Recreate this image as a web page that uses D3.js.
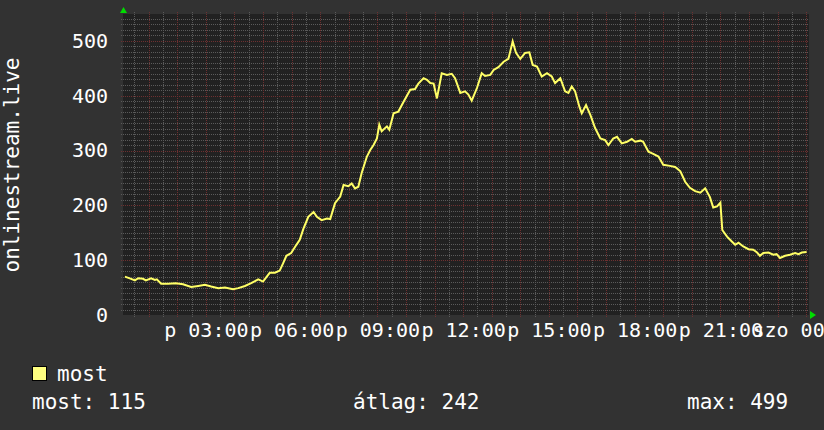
<!DOCTYPE html>
<html>
<head>
<meta charset="utf-8">
<script src="https://cdn.jsdelivr.net/npm/d3@7"></script>
<style>
  body { margin: 0; background: #313131; }
  text { font-family: "DejaVu Sans Mono", monospace; fill: #ffffff; }
</style>
</head>
<body>
<div id="chart"></div>
<script>
var width = 824
var height = 430

// minutes after midnight (friday) and viewer count
var minutes = [10, 23, 31, 38, 48, 54, 65, 73, 77, 86, 101, 117, 132, 149, 164, 178, 191, 206, 220, 237,
  248, 262, 275, 290, 300, 307, 314, 325, 335, 342, 349, 359, 370, 377, 385, 395, 406, 413, 423, 434,
  441, 451, 462, 469, 479, 486, 493, 500, 507, 518, 525, 532, 539, 544, 549, 560, 565, 574, 584, 595,
  609, 619, 626, 637, 644, 651, 658, 665, 675, 686, 696, 703, 714, 724, 731, 738, 749, 759, 766, 777,
  784, 794, 805, 815, 824, 831, 840, 850, 859, 866, 875, 885, 896, 906, 913, 924, 934, 941, 948, 955,
  964, 969, 978, 987, 997, 1008, 1018, 1025, 1035, 1043, 1053, 1064, 1074, 1081, 1092, 1098, 1109, 1119, 1130, 1140,
  1154, 1165, 1176, 1186, 1196, 1207, 1218, 1228, 1238, 1245, 1253, 1260, 1264, 1274, 1284, 1291, 1298, 1308, 1319, 1329,
  1337, 1343, 1350, 1361, 1371, 1378, 1385, 1396, 1406, 1417, 1424, 1431, 1441]
var viewers = [70, 66, 63, 67, 66, 63, 67, 64, 65, 57, 57, 58, 56, 51, 53, 55, 52, 49, 50, 47,
  49, 53, 58, 65, 61, 69, 77, 77, 81, 94, 108, 113, 128, 137, 158, 179, 188, 179, 173, 176,
  175, 204, 216, 237, 235, 240, 231, 234, 259, 289, 301, 310, 322, 347, 335, 344, 338, 368, 371, 389,
  411, 412, 422, 432, 429, 423, 422, 395, 441, 438, 440, 432, 405, 408, 402, 391, 414, 441, 436, 438,
  447, 452, 462, 467, 499, 478, 467, 478, 479, 456, 453, 435, 441, 435, 423, 432, 408, 405, 417, 408,
  380, 368, 383, 365, 341, 322, 319, 310, 322, 325, 313, 316, 321, 316, 318, 316, 298, 294, 289, 274,
  272, 270, 262, 243, 232, 226, 223, 231, 215, 196, 198, 205, 155, 143, 134, 128, 132, 125, 120, 119,
  114, 108, 113, 114, 110, 111, 104, 108, 110, 113, 111, 114, 115]

var yTicks = [0, 100, 200, 300, 400, 500]
var dayNames = ["v", "h", "k", "sze", "cs", "p", "szo"]
var seriesName = "most"
var yTitle = "onlinestream.live"
var statLabels = ["most: 115", "átlag: 242", "max: 499"]

var day0 = new Date(2024, 0, 5) // a friday
var data = minutes.map(function(m, i) {
  return { t: d3.timeMinute.offset(day0, m), v: viewers[i] }
})

var svg = d3.select("#chart")
  .append("svg")
    .attr("width", width)
    .attr("height", height)
    .style("display", "block")

svg.append("rect").attr("width", width).attr("height", height).attr("fill", "#323232")

var pLeft = 123, pRight = 809, pTop = 14, pBottom = 315

var x = d3.scaleTime()
  .domain([d3.timeMinute.offset(day0, 6), d3.timeMinute.offset(day0, 24 * 60 + 6)])
  .range([pLeft, pRight])

var y = d3.scaleLinear()
  .domain([0, 549])
  .range([pBottom, pTop])

svg.append("rect")
  .attr("x", pLeft).attr("y", pTop)
  .attr("width", pRight - pLeft).attr("height", pBottom - pTop)
  .attr("fill", "#212121")

// grid (dotted, rrdtool style)
var grid = svg.append("g").attr("shape-rendering", "crispEdges")
var minorX = x.ticks(d3.timeMinute.every(30)).filter(function(d) { return d.getMinutes() != 0 })
var majorX = x.ticks(d3.timeHour.every(1))
var minorY = d3.range(10, 550, 10).filter(function(d) { return d % 100 != 0 })
var majorY = [100, 200, 300, 400, 500]

function vLines(vals, col) {
  grid.append("g").selectAll("line").data(vals).enter().append("line")
    .attr("x1", function(d) { return Math.round(x(d)) + 0.5 })
    .attr("x2", function(d) { return Math.round(x(d)) + 0.5 })
    .attr("y1", pTop - 2).attr("y2", pBottom + 2)
    .attr("stroke", col).attr("stroke-dasharray", "1,1")
}
function hLines(vals, col) {
  grid.append("g").selectAll("line").data(vals).enter().append("line")
    .attr("x1", pLeft - 2).attr("x2", pRight)
    .attr("y1", function(d) { return Math.round(y(d)) + 0.5 })
    .attr("y2", function(d) { return Math.round(y(d)) + 0.5 })
    .attr("stroke", col).attr("stroke-dasharray", "1,1")
}
vLines(minorX, "#5a5a5a")
hLines(minorY, "#5a5a5a")
vLines(majorX, "#6e3030")
hLines(majorY, "#6e3030")

// axes
var xAxis = d3.axisBottom(x)
  .ticks(d3.timeHour.every(3))
  .tickSize(0)
  .tickPadding(8)
  .tickFormat(function(d) { return dayNames[d.getDay()] + " " + d3.timeFormat("%H:%M")(d) })

svg.append("g")
  .attr("transform", "translate(0," + pBottom + ")")
  .call(xAxis)
  .call(function(g) { g.select(".domain").remove() })
  .selectAll("text")
    .attr("font-size", 20)
    .attr("font-family", "DejaVu Sans Mono")
    .attr("fill", "#ffffff")

var yAxis = d3.axisLeft(y)
  .tickValues(yTicks)
  .tickSize(0)
  .tickPadding(15)

svg.append("g")
  .attr("transform", "translate(" + pLeft + ",0)")
  .call(yAxis)
  .call(function(g) { g.select(".domain").remove() })
  .selectAll("text")
    .attr("font-size", 20)
    .attr("font-family", "DejaVu Sans Mono")
    .attr("fill", "#ffffff")

// axis arrows
svg.append("path")
  .attr("d", "M" + (pLeft - 3) + ",13 L" + (pLeft + 4) + ",13 L" + (pLeft + 0.5) + ",7 Z")
  .attr("fill", "#00dd00")
svg.append("path")
  .attr("d", "M" + (pRight + 1) + "," + (pBottom - 4) + " L" + (pRight + 1) + "," + (pBottom + 4) + " L" + (pRight + 7) + "," + pBottom + " Z")
  .attr("fill", "#00dd00")

// series
var line = d3.line()
  .x(function(d) { return x(d.t) })
  .y(function(d) { return y(d.v) })

svg.append("path")
  .datum(data)
  .attr("d", line)
  .attr("fill", "none")
  .attr("stroke", "#ffff66")
  .attr("stroke-width", 2)

// y title
svg.append("text")
  .attr("transform", "translate(19,165) rotate(-90)")
  .attr("text-anchor", "middle")
  .attr("font-size", 21)
  .text(yTitle)

// legend
svg.append("rect")
  .attr("x", 32.5).attr("y", 366.5)
  .attr("width", 14).attr("height", 14)
  .attr("fill", "#ffff80").attr("stroke", "#000000")

svg.append("text")
  .attr("x", 57).attr("y", 381)
  .attr("font-size", 21)
  .text(seriesName)

svg.append("text").attr("x", 32).attr("y", 409).attr("font-size", 21).text(statLabels[0])
svg.append("text").attr("x", 353).attr("y", 409).attr("font-size", 21).text(statLabels[1])
svg.append("text").attr("x", 687).attr("y", 409).attr("font-size", 21).text(statLabels[2])
</script>
</body>
</html>
